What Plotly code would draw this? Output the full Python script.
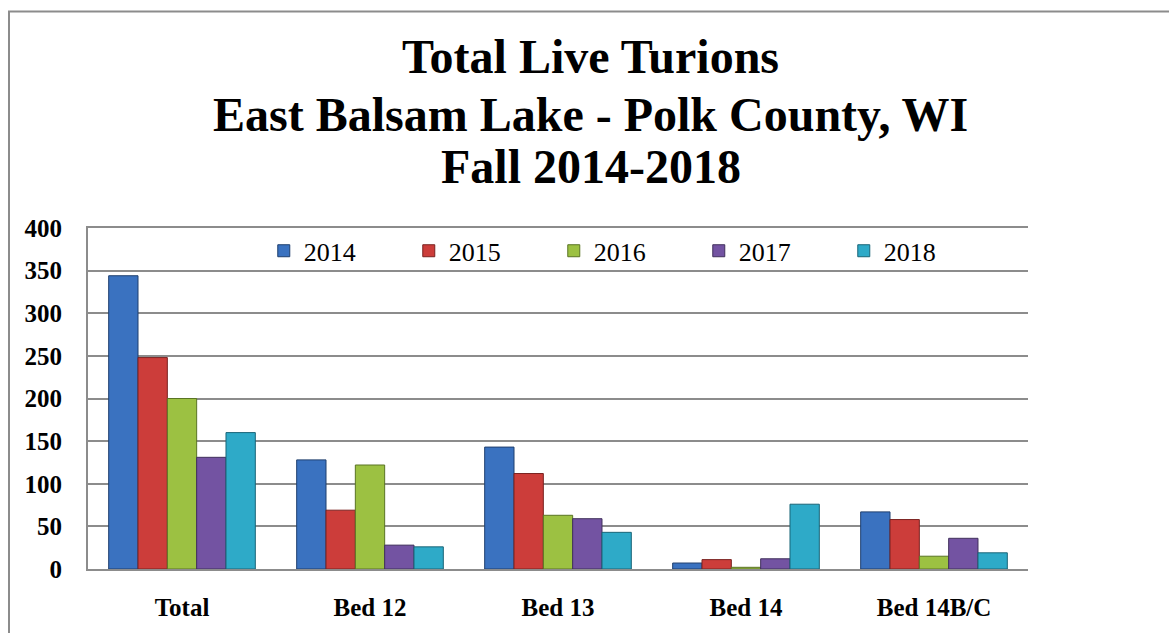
import plotly.graph_objects as go

categories = ["Total", "Bed 12", "Bed 13", "Bed 14", "Bed 14B/C"]
years = ["2014", "2015", "2016", "2017", "2018"]
v2014 = [344, 128, 143, 7, 67]
v2015 = [248, 69, 112, 11, 58]
v2016 = [200, 122, 63, 2, 15]
v2017 = [131, 28, 59, 12, 36]
v2018 = [160, 26, 43, 76, 19]
series = [v2014, v2015, v2016, v2017, v2018]
title_lines = ["Total Live Turions", "East Balsam Lake - Polk County, WI", "Fall 2014-2018"]
colors = ["#3a72c0", "#cc3d3a", "#9cc142", "#7353a2", "#2eaac8"]
lines = ["#1f3f6e", "#7a2220", "#5a7424", "#40305c", "#1a6578"]

fig = go.Figure()
for name, vals, c, lc in zip(years, series, colors, lines):
    fig.add_trace(go.Bar(name=name, x=categories, y=vals,
                         marker=dict(color=c, line=dict(color=lc, width=1))))

serif = "Liberation Serif, Times New Roman, serif"
for txt, yp in zip(title_lines, [1.502, 1.333, 1.18]):
    fig.add_annotation(text="<b>%s</b>" % txt, xref="paper", yref="paper",
                       x=0.535, y=yp, xanchor="center", yanchor="middle", showarrow=False,
                       font=dict(family=serif, size=48, color="black"))

fig.update_layout(
    width=1169, height=633,
    paper_bgcolor="white", plot_bgcolor="white",
    margin=dict(l=88, r=141, t=228, b=60),
    barmode="group", bargap=0.22, bargroupgap=0,
    legend=dict(orientation="h", x=0.187, xanchor="left", y=0.933, yanchor="middle",
                font=dict(family=serif, size=26, color="black"),
                bgcolor="rgba(0,0,0,0)", entrywidth=100, entrywidthmode="pixels",
                itemwidth=30, traceorder="normal"),
    showlegend=True,
)
fig.update_yaxes(range=[0, 400], dtick=50, showgrid=True, gridcolor="#8c8c8c", gridwidth=2,
                 showline=True, linecolor="#8c8c8c", linewidth=2, mirror=False,
                 ticks="outside", ticklen=19, tickcolor="rgba(0,0,0,0)", zeroline=False,
                 tickfont=dict(family=serif, size=25, color="black"),
                 tickprefix="<b>", ticksuffix="</b>")
fig.update_xaxes(showline=True, linecolor="#8c8c8c", linewidth=2, mirror=True,
                 ticks="outside", ticklen=15, tickcolor="rgba(0,0,0,0)",
                 tickfont=dict(family=serif, size=25, color="black"),
                 tickprefix="<b>", ticksuffix="</b>")
fig.add_shape(type="rect", xref="paper", yref="paper",
              x0=(9 - 88) / 940, x1=(1175 - 88) / 940,
              y0=-0.3, y1=(573 - 9) / 345,
              line=dict(color="#8c8c8c", width=2), fillcolor="rgba(0,0,0,0)", layer="below")
fig.write_html("out.html", config={"displayModeBar": False},
               post_script="document.body.style.margin='0';document.body.style.overflow='hidden';")
